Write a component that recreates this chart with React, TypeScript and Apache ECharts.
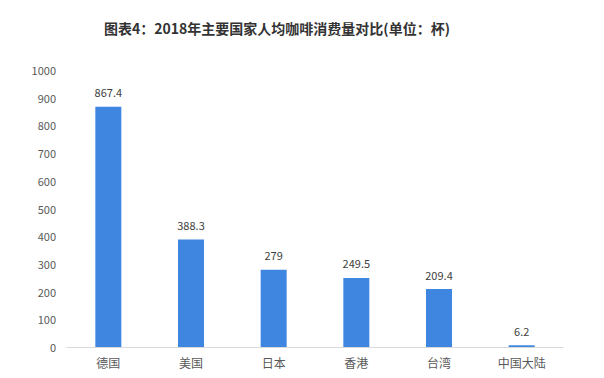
import React, { useEffect, useRef } from "react";
import * as echarts from "echarts";

const categories = ["德国", "美国", "日本", "香港", "台湾", "中国大陆"];
const values = [867.4, 388.3, 279, 249.5, 209.4, 6.2];
const titleText = "图表4：2018年主要国家人均咖啡消费量对比(单位：杯)";

export default function App() {
  const ref = useRef<HTMLDivElement>(null);
  useEffect(() => {
    const chart = echarts.init(ref.current!, null, { renderer: "svg" });
    chart.setOption({
      animation: false,
      backgroundColor: "#ffffff",
      title: {
        text: titleText,
        left: 272,
        top: 16,
        textAlign: "center",
        textStyle: {
          fontFamily: "Noto Sans CJK SC",
          fontSize: 14,
          fontWeight: "bold",
          color: "#333333",
        },
      },
      grid: { left: 67, right: 41, top: 70, bottom: 31, containLabel: false },
      xAxis: {
        type: "category",
        data: categories,
        axisLine: { show: true, lineStyle: { color: "#d9d9d9", width: 1 } },
        axisTick: { show: false },
        axisLabel: {
          color: "#595959",
          fontSize: 12,
          fontFamily: "Noto Sans CJK SC",
          margin: 9,
        },
      },
      yAxis: {
        type: "value",
        min: 0,
        max: 1000,
        interval: 100,
        axisLine: { show: false },
        axisTick: { show: false },
        splitLine: { show: false },
        axisLabel: {
          color: "#595959",
          fontSize: 11,
          fontFamily: "Noto Sans CJK SC",
          margin: 11,
          formatter: (v: number) => String(v),
        },
      },
      series: [
        {
          type: "bar",
          data: values,
          barWidth: 26,
          itemStyle: { color: "#3f86e1" },
          label: {
            show: true,
            position: "top",
            distance: 9,
            color: "#404040",
            fontSize: 11,
            fontFamily: "Noto Sans CJK SC",
          },
        },
      ],
    });
    return () => chart.dispose();
  }, []);
  return <div ref={ref} style={{ width: 604, height: 378, position: "absolute", left: 0, top: 0 }} />;
}
